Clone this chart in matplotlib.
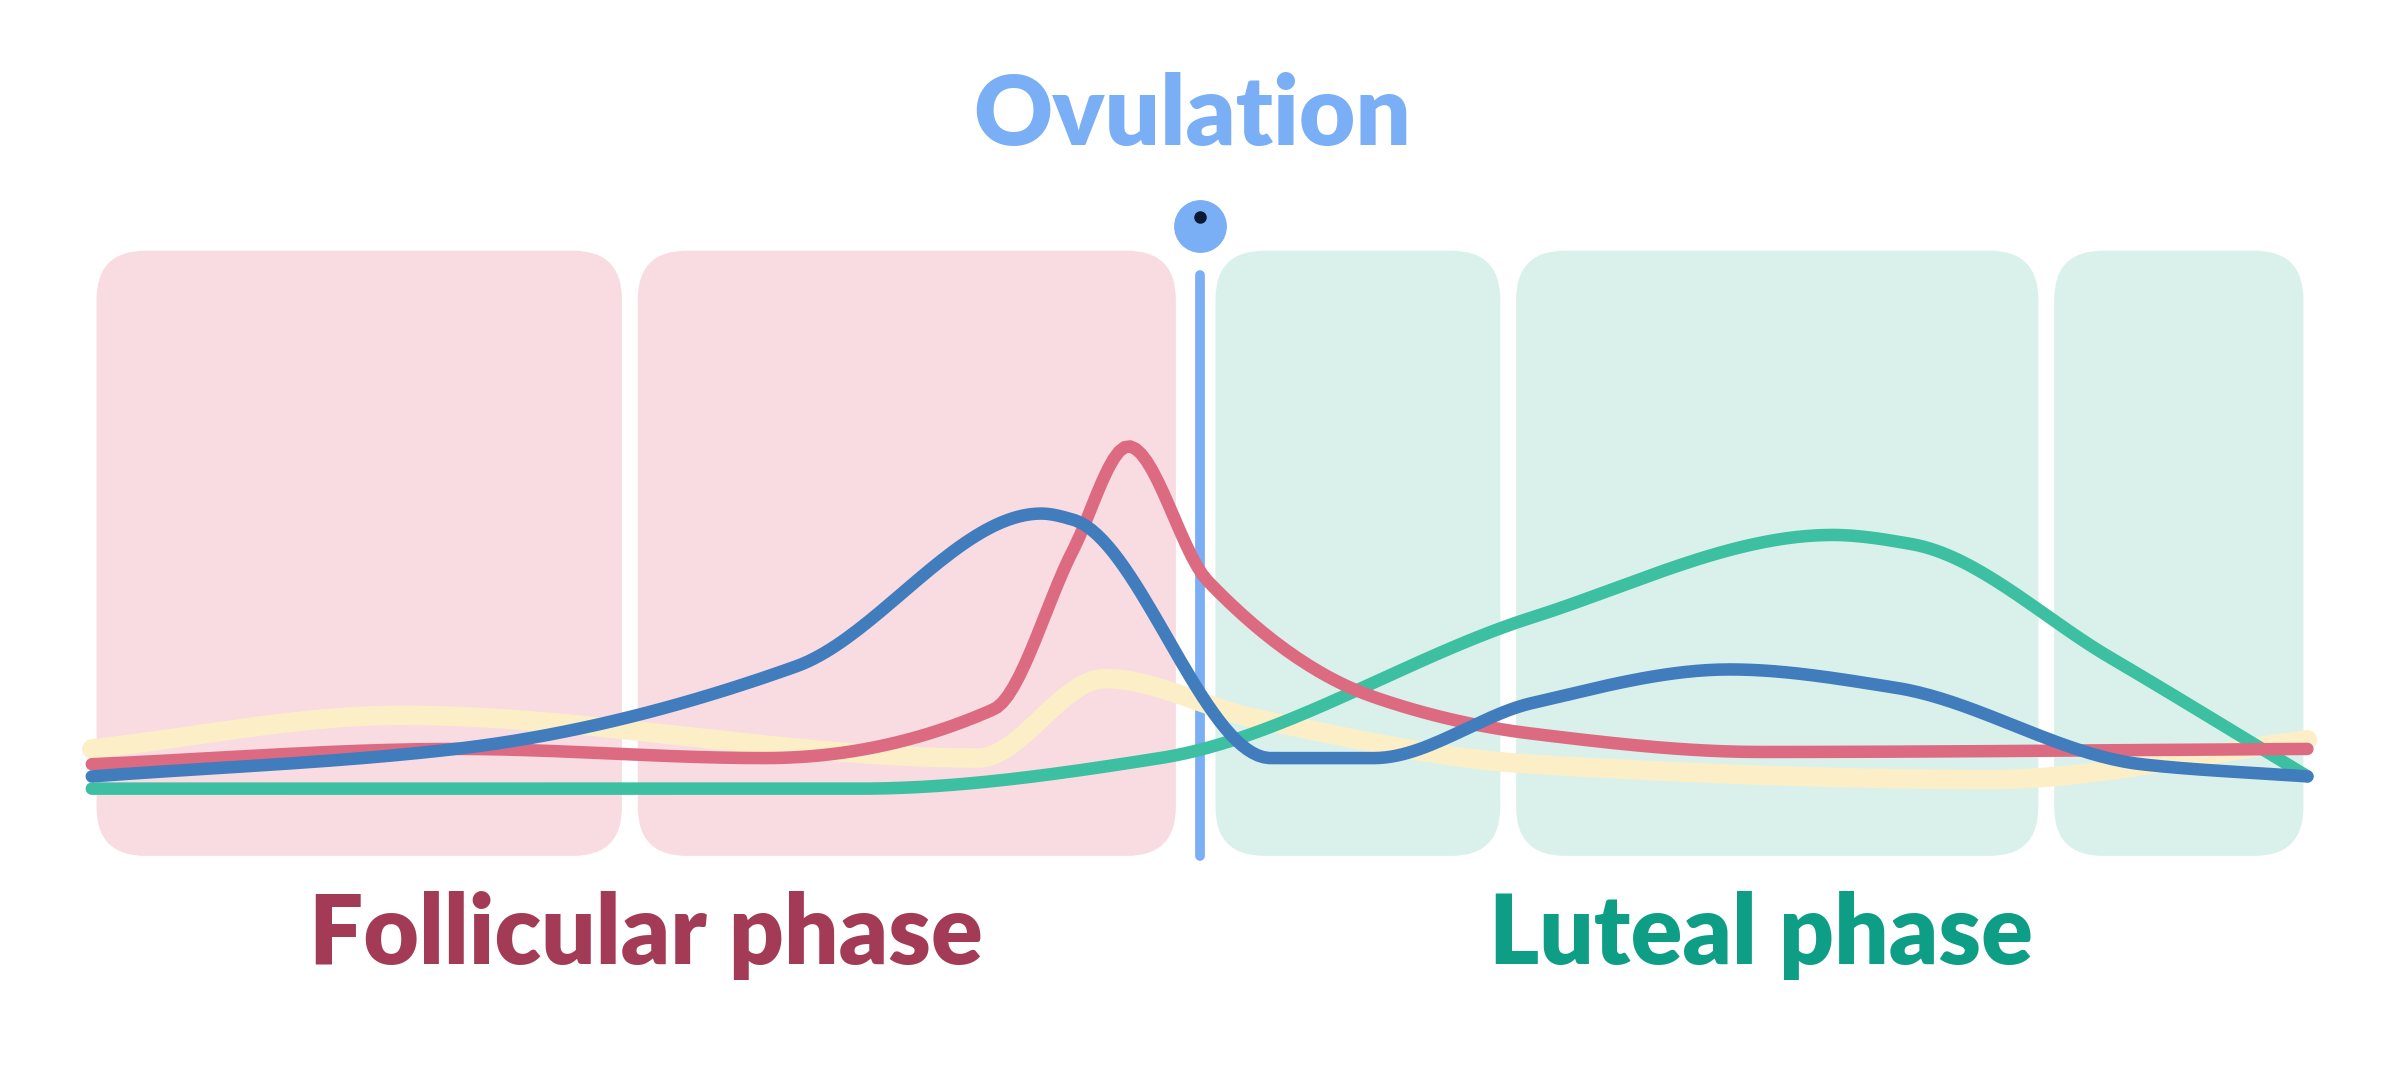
import numpy as np
import matplotlib
matplotlib.use("Agg")
import matplotlib.pyplot as plt
from matplotlib.patches import FancyBboxPatch

# Data (cycle day, relative hormone level)
blue_days = [0, 4.6, 8.9, 12.0, 12.4, 14.9, 16.2, 18.2, 20.7, 22.8, 25.9, 28]
blue_vals = [13, 17.5, 31, 56, 55, 16, 16, 25, 30.5, 27.5, 15, 13]
red_days = [0, 4.6, 8.5, 11.4, 12.4, 13.1, 14.1, 16.2, 18.2, 21.1, 28]
red_vals = [15, 17.5, 16, 24, 50, 67, 45, 26, 20, 17, 17.5]
green_days = [0, 9.7, 13.5, 18.2, 22.0, 23.0, 25.5, 28]
green_vals = [11, 11, 16, 39, 52.5, 51, 32.5, 13]
yellow_days = [0, 3.9, 11.2, 12.8, 14.7, 18.2, 24, 28]
yellow_vals = [17.5, 23, 16, 29, 22.5, 15, 12.5, 19]
ovulation_day = 14
pink_boxes = [(0.06, 6.7), (6.9, 13.7)]
green_boxes = [(14.2, 17.8), (18.0, 24.6), (24.8, 27.95)]

def pchip(x, y, n=400):
    x = np.asarray(x, float); y = np.asarray(y, float)
    h = np.diff(x); d = np.diff(y) / h
    m = np.zeros_like(y)
    for k in range(1, len(x) - 1):
        if d[k-1] * d[k] > 0:
            w1 = 2*h[k] + h[k-1]; w2 = h[k] + 2*h[k-1]
            m[k] = (w1 + w2) / (w1/d[k-1] + w2/d[k])
    m[0] = d[0]; m[-1] = d[-1]
    xs = np.linspace(x[0], x[-1], n); ys = np.empty_like(xs)
    for i, xv in enumerate(xs):
        k = min(np.searchsorted(x, xv, side='right') - 1, len(x) - 2)
        t = (xv - x[k]) / h[k]
        h00 = 2*t**3 - 3*t**2 + 1; h10 = t**3 - 2*t**2 + t
        h01 = -2*t**3 + 3*t**2; h11 = t**3 - t**2
        ys[i] = h00*y[k] + h10*h[k]*m[k] + h01*y[k+1] + h11*h[k]*m[k+1]
    return xs, ys

fig = plt.figure(figsize=(24, 10.76), dpi=100)
ax = fig.add_axes([0, 0, 1, 1])
ax.set_xlim(-1.16, 29.17)
ax.set_ylim(-36, 140)
ax.axis('off')

for boxes, col in [(pink_boxes, '#f8dce1'), (green_boxes, '#daf1eb')]:
    for a, b in boxes:
        ax.add_patch(FancyBboxPatch((a, 0), b - a, 99, boxstyle="round,pad=0,rounding_size=0.62",
                                    mutation_aspect=12.9, fc=col, ec='none', zorder=1))

ax.plot([ovulation_day]*2, [0, 95], color='#7aaef5', lw=7, solid_capstyle='round', zorder=2)
for d, v, c, lw, z in [(yellow_days, yellow_vals, '#fcefc7', 14, 3),
                       (green_days, green_vals, '#3dbfa1', 9, 4),
                       (red_days, red_vals, '#dc6b82', 9, 5),
                       (blue_days, blue_vals, '#417cbd', 9, 6)]:
    xs, ys = pchip(d, v)
    ax.plot(xs, ys, color=c, lw=lw, solid_capstyle='round', zorder=z)

ax.plot([ovulation_day], [103], 'o', ms=37, color='#7aaef5', zorder=7)
ax.plot([ovulation_day], [104.5], 'o', ms=8, color='#0b1a33', zorder=8)
fam = ['Lato', 'DejaVu Sans']
ax.text(ovulation_day - 0.1, 121, 'Ovulation', color='#7aaef5', fontsize=70, fontweight='heavy',
        family=fam, ha='center', va='center')
ax.text(7.0, -13, 'Follicular phase', color='#a33b56', fontsize=69, fontweight='heavy',
        family=fam, ha='center', va='center')
ax.text(21.1, -13, 'Luteal phase', color='#0e9e86', fontsize=69, fontweight='heavy',
        family=fam, ha='center', va='center')

fig.savefig('out.png', dpi=100, facecolor='white')
